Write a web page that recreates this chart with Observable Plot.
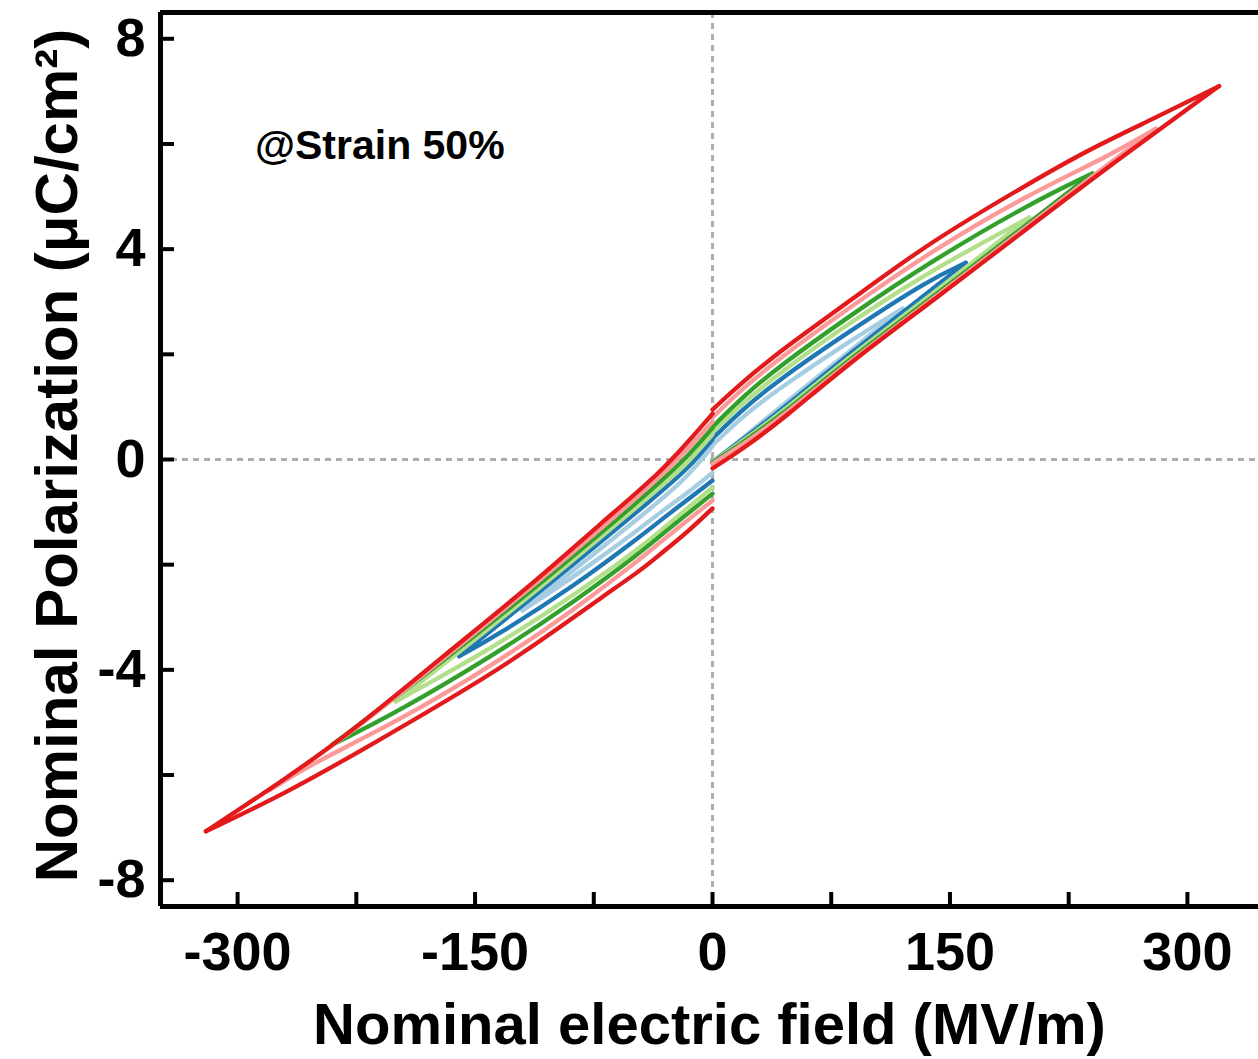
<!DOCTYPE html>
<html>
<head>
<meta charset="utf-8">
<script src="https://cdn.jsdelivr.net/npm/d3@7"></script>
<script src="https://cdn.jsdelivr.net/npm/@observablehq/plot@0.6"></script>
<style>
  html, body { margin: 0; padding: 0; background: #fff; }
</style>
</head>
<body>
<div id="chart"></div>
<script>
// ---- Data: P–E loops (E in MV/m, P in µC/cm²), four branches each ----
const loopNames  = ["120", "160", "200", "240", "280", "320"];
const loopColors = ["#a6cee3", "#1f78b4", "#b2df8a", "#33a02c", "#fb9a99", "#e31a1c"];

const loop120 = [
  [[0,-0.04],[20,0.43],[45,1.05],[87,2.07],[120,2.87]],
  [[120,2.87],[87,2.26],[43,1.37],[20,0.85],[0,0.27]],
  [[0,0.25],[-15,-0.3],[-33,-0.79],[-96,-2.3],[-120,-2.87]],
  [[-120,-2.87],[-87,-2.22],[-45,-1.3],[-33,-1.0],[-15,-0.62],[0,-0.25]]
];
const loop160 = [
  [[0,-0.05],[20,0.4],[45,0.98],[87,2.02],[137,3.2],[160,3.74]],
  [[160,3.74],[137,3.42],[87,2.45],[43,1.54],[20,0.98],[0,0.4]],
  [[0,0.38],[-15,-0.16],[-33,-0.63],[-96,-2.2],[-160,-3.74]],
  [[-160,-3.74],[-137,-3.36],[-87,-2.4],[-45,-1.45],[-33,-1.16],[0,-0.4]]
];
const loop200 = [
  [[0,-0.05],[20,0.37],[45,0.93],[87,1.97],[137,3.1],[200,4.6]],
  [[200,4.6],[137,3.58],[87,2.61],[43,1.66],[20,1.1],[0,0.52]],
  [[0,0.48],[-15,-0.05],[-33,-0.53],[-96,-2.12],[-150,-3.43],[-200,-4.6]],
  [[-200,-4.6],[-137,-3.55],[-87,-2.57],[-45,-1.66],[-33,-1.36],[0,-0.53]]
];
const loop240 = [
  [[0,-0.06],[20,0.34],[45,0.88],[87,1.92],[137,3.04],[200,4.5],[240,5.44]],
  [[240,5.44],[200,4.86],[137,3.75],[87,2.74],[43,1.79],[20,1.22],[0,0.62]],
  [[0,0.6],[-15,0.08],[-33,-0.44],[-96,-2.05],[-171,-3.86],[-240,-5.42]],
  [[-240,-5.42],[-200,-4.82],[-137,-3.7],[-87,-2.7],[-45,-1.76],[-33,-1.45],[0,-0.65]]
];
const loop280 = [
  [[0,-0.08],[20,0.3],[45,0.84],[87,1.88],[137,3.0],[200,4.46],[251,5.64],[280,6.29]],
  [[280,6.29],[251,5.78],[200,5.05],[137,3.94],[87,2.9],[43,1.94],[20,1.38],[0,0.8]],
  [[0,0.72],[-15,0.22],[-33,-0.34],[-96,-1.98],[-171,-3.81],[-225,-5.13],[-280,-6.29]],
  [[-280,-6.29],[-251,-5.75],[-200,-5.0],[-137,-3.88],[-87,-2.85],[-45,-1.88],[-33,-1.57],[0,-0.78]]
];
const loop320 = [
  [[0,-0.17],[20,0.22],[45,0.78],[87,1.85],[137,2.97],[200,4.42],[251,5.59],[320,7.1]],
  [[320,7.1],[280,6.5],[236,5.87],[200,5.25],[137,4.13],[87,3.02],[43,2.07],[20,1.5],[0,0.95]],
  [[0,0.87],[-15,0.35],[-33,-0.25],[-70,-1.2],[-115,-2.4],[-171,-3.76],[-225,-5.11],[-270,-6.08],[-320,-7.07]],
  [[-320,-7.07],[-270,-6.35],[-225,-5.59],[-135,-4.01],[-96,-3.18],[-70,-2.62],[-45,-2.1],[-33,-1.8],[-15,-1.36],[0,-0.93]]
];
const loops = [loop120, loop160, loop200, loop240, loop280, loop320];

const xTicks      = [-300, -225, -150, -75, 0, 75, 150, 225, 300];
const xTickLabels = [-300, -150, 0, 150, 300];
const yTicks      = [-8, -6, -4, -2, 0, 2, 4, 6, 8];
const yTickLabels = [-8, -4, 0, 4, 8];

const xDomain = [-348.7, 344.9];
const yDomain = [-8.5, 8.5];

const xTitle = "Nominal electric field (MV/m)";
const yTitle = "Nominal Polarization (μC/cm²)";
const note   = "@Strain 50%";

// ---- Build rows ----
const rows = [];
loops.forEach((lp, i) => {
  lp.forEach((branch, b) => {
    branch.forEach(([E, P]) => rows.push({E, P, loop: loopNames[i], key: loopNames[i] + "-" + b}));
  });
});

const W = 1258, H = 1059;
const mL = 160, mT = 12, mB = 153, mR = 0;
const pxPerX = (W - mL - mR) / (xDomain[1] - xDomain[0]);
const pxPerY = (H - mT - mB) / (yDomain[1] - yDomain[0]);
const tickLen = 14;
const font = "'Liberation Sans', Arial, Helvetica, sans-serif";

const lineMarks = loopNames.map((name, i) =>
  Plot.line(rows.filter(r => r.loop === name), {
    x: "E", y: "P", z: "key", stroke: loopColors[i],
    strokeWidth: 4.3, curve: "basis", strokeLinejoin: "round", strokeLinecap: "round"
  })
);

const chart = Plot.plot({
  width: W, height: H,
  marginLeft: mL, marginRight: mR, marginTop: mT, marginBottom: mB,
  style: {fontFamily: font, background: "#fff", overflow: "visible"},
  x: {domain: xDomain},
  y: {domain: yDomain},
  marks: [
    // zero reference lines
    Plot.ruleX([0], {stroke: "#adadad", strokeWidth: 3, strokeDasharray: "6,5"}),
    Plot.ruleY([0], {stroke: "#adadad", strokeWidth: 3, strokeDasharray: "6,5"}),
    ...lineMarks,
    // axes frame lines
    Plot.ruleX([xDomain[0]], {stroke: "#000", strokeWidth: 5}),
    Plot.ruleY([yDomain[0]], {stroke: "#000", strokeWidth: 5}),
    Plot.ruleY([yDomain[1]], {stroke: "#000", strokeWidth: 5}),
    // inward ticks
    Plot.ruleX(xTicks, {x: d => d, y1: yDomain[0], y2: yDomain[0] + tickLen / pxPerY, stroke: "#000", strokeWidth: 4}),
    Plot.ruleY(yTicks, {y: d => d, x1: xDomain[0], x2: xDomain[0] + tickLen / pxPerX, stroke: "#000", strokeWidth: 4}),
    // tick labels
    Plot.axisX({ticks: xTickLabels, tickSize: 0, tickPadding: 25, fontSize: 54, fontWeight: "bold", fontFamily: font, label: null, tickFormat: d => String(d)}),
    Plot.axisY({ticks: yTickLabels, tickSize: 0, tickPadding: 15, fontSize: 54, fontWeight: "bold", fontFamily: font, label: null, tickFormat: d => String(d)}),
    // titles
    Plot.text([xTitle], {text: d => d, frameAnchor: "bottom", dy: 119, fontSize: 58, fontWeight: "bold", fontFamily: font, fill: "#000", lineAnchor: "middle"}),
    Plot.text([yTitle], {text: d => d, frameAnchor: "left", dx: -103, dy: -4, rotate: -90, textAnchor: "middle", fontSize: 60, fontWeight: "bold", fontFamily: font, fill: "#000", lineAnchor: "middle"}),
    // annotation
    Plot.text([note], {text: d => d, x: -289, y: 5.97, textAnchor: "start", lineAnchor: "middle", fontSize: 41, fontWeight: "bold", fontFamily: font, fill: "#000"})
  ]
});

document.getElementById("chart").appendChild(chart);
</script>
</body>
</html>
